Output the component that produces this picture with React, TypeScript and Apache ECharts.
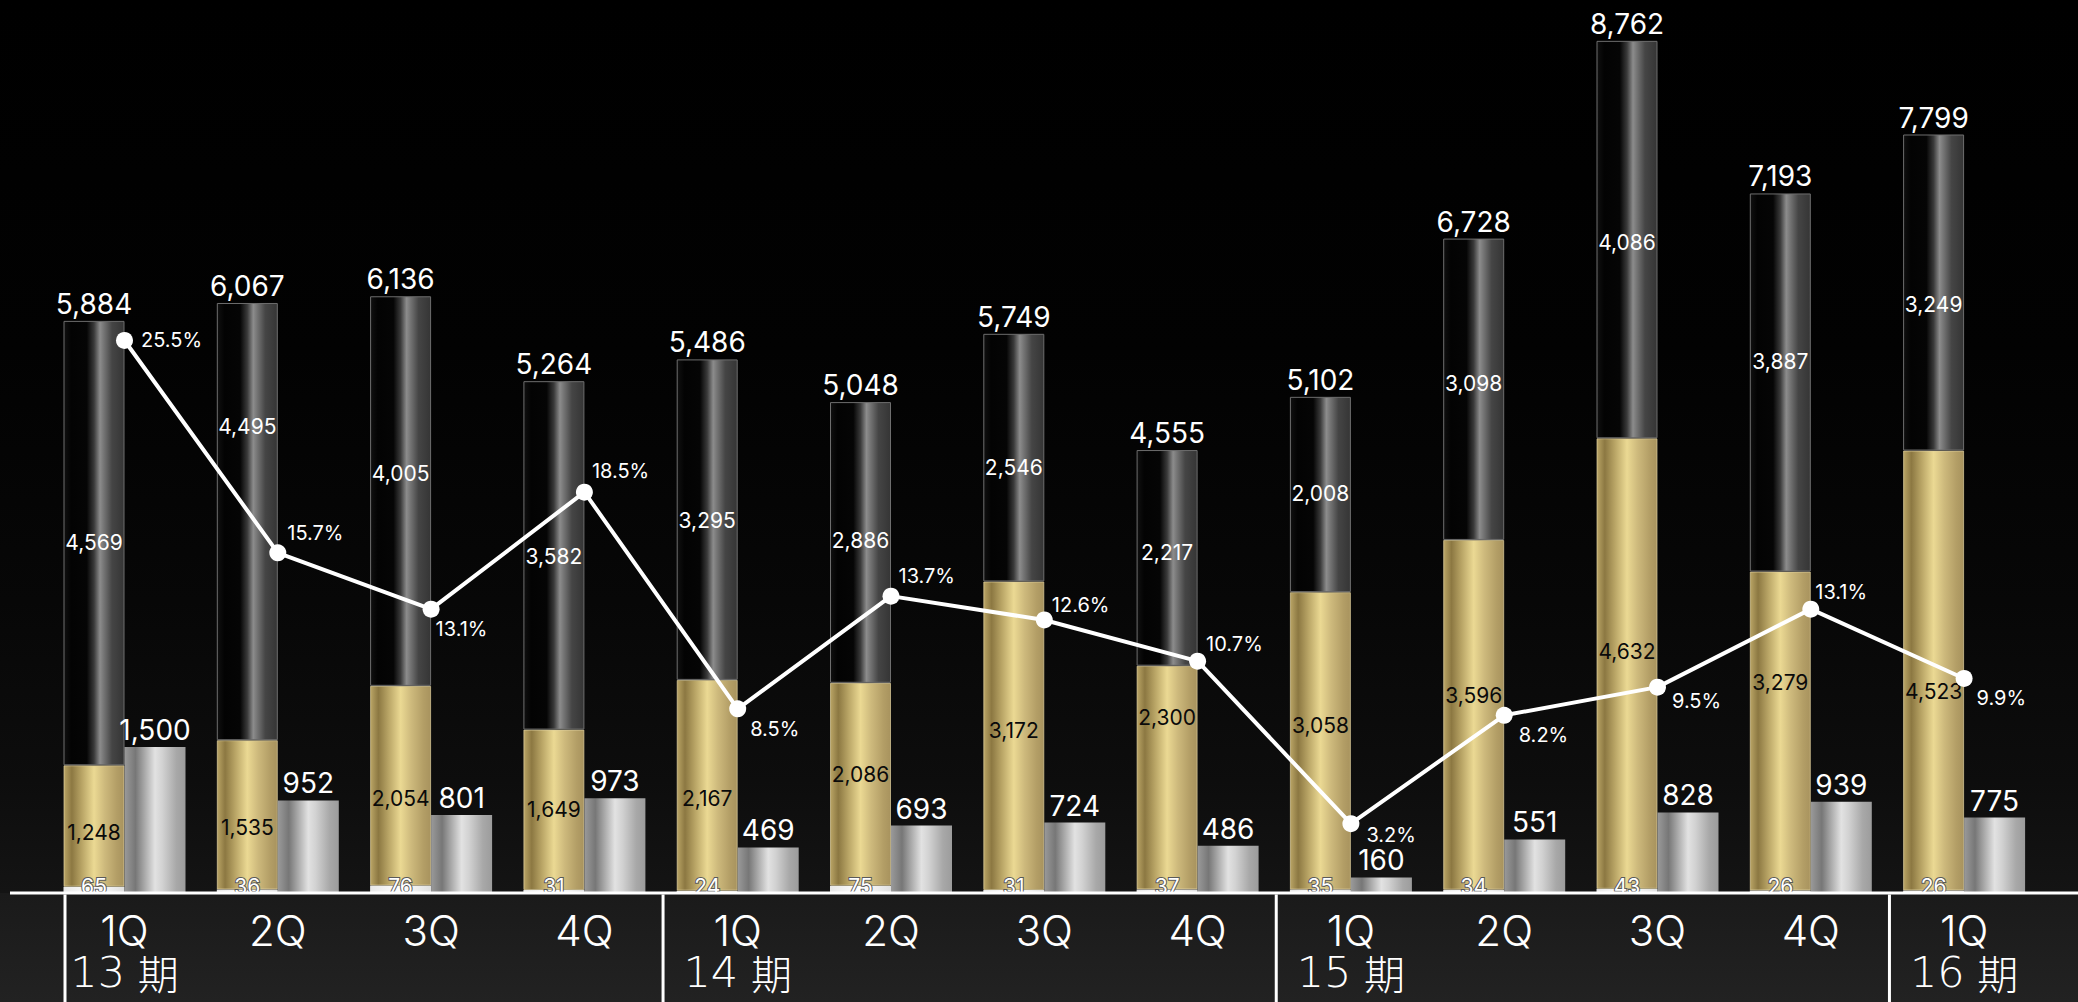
import React, { useEffect, useRef } from 'react';
import * as echarts from 'echarts';

const categories = ['1Q', '2Q', '3Q', '4Q', '1Q', '2Q', '3Q', '4Q', '1Q', '2Q', '3Q', '4Q', '1Q'];
const periods = ['13 期', '14 期', '15 期', '16 期'];
const periodFirstIndex = [0, 4, 8, 12];

const baseValues = [65, 36, 76, 31, 24, 75, 31, 37, 35, 34, 43, 26, 26];
const goldValues = [1248, 1535, 2054, 1649, 2167, 2086, 3172, 2300, 3058, 3596, 4632, 3279, 4523];
const darkValues = [4569, 4495, 4005, 3582, 3295, 2886, 2546, 2217, 2008, 3098, 4086, 3887, 3249];
const totals = [5884, 6067, 6136, 5264, 5486, 5048, 5749, 4555, 5102, 6728, 8762, 7193, 7799];
const greyValues = [1500, 952, 801, 973, 469, 693, 724, 486, 160, 551, 828, 939, 775];
const ratePct = [25.5, 15.7, 13.1, 18.5, 8.5, 13.7, 12.6, 10.7, 3.2, 8.2, 9.5, 13.1, 9.9];

// label placement styling (pixel nudges)
const rateLabelOffsets = [
  [3, 0], [-4, -20], [-9, 20], [-6, -21], [-1, 20], [-6, -20], [-6, -15],
  [-5, -17], [2, 11], [1, 20], [1, 14], [-9, -17], [-1, 20],
];
const goldLabelDy = [7, 13, 13, 0, 13, -10, -5, -60, -15, -19, -12, -49, 21];
const darkLabelDy = [-1, -95, -18, 1, 1, -2, 10, -5, -1, -6, 3, -21, 12];

const fmt = (v: number) => v.toLocaleString('en-US');
const NUM_FONT = 'Inter, "Noto Sans", sans-serif';
const BAR_W = 61;

export default function App() {
  const ref = useRef<HTMLDivElement>(null);

  useEffect(() => {
    document.body.style.margin = '0';
    const chart = echarts.init(ref.current!, null, { renderer: 'svg' });
    const LG = echarts.graphic.LinearGradient;

    const darkGrad = new LG(0, 0, 1, 0, [
      { offset: 0, color: '#101010' },
      { offset: 0.12, color: '#030303' },
      { offset: 0.38, color: '#050505' },
      { offset: 0.5, color: '#3a3a3a' },
      { offset: 0.6, color: '#8c8c8c' },
      { offset: 0.66, color: '#767676' },
      { offset: 0.8, color: '#454545' },
      { offset: 1, color: '#353535' },
    ]);
    const goldGrad = new LG(0, 0, 1, 0, [
      { offset: 0, color: '#b9a465' },
      { offset: 0.13, color: '#8c7842' },
      { offset: 0.3, color: '#b9a566' },
      { offset: 0.5, color: '#ebd993' },
      { offset: 0.68, color: '#cdb97c' },
      { offset: 0.88, color: '#b39e66' },
      { offset: 1, color: '#a8935e' },
    ]);
    const greyGrad = new LG(0, 0, 1, 0, [
      { offset: 0, color: '#9a9a9a' },
      { offset: 0.18, color: '#777777' },
      { offset: 0.5, color: '#e2e2e2' },
      { offset: 0.62, color: '#d2d2d2' },
      { offset: 0.85, color: '#a8a8a8' },
      { offset: 1, color: '#9c9c9c' },
    ]);
    const baseGrad = new LG(0, 0, 1, 0, [
      { offset: 0, color: '#e8e8e8' },
      { offset: 0.5, color: '#ffffff' },
      { offset: 1, color: '#e0e0e0' },
    ]);

    const periodAxisData = categories.map((_, i) => {
      const k = periodFirstIndex.indexOf(i);
      return k >= 0 ? periods[k] : '';
    });

    const option: any = {
      animation: false,
      backgroundColor: 'transparent',
      grid: { left: 47.85, right: 37.25, top: 17.6, bottom: 109 },
      xAxis: [
        {
          type: 'category',
          data: categories,
          z: 60,
          axisLine: { show: false },
          axisTick: { show: false },
          axisLabel: {
            interval: 0,
            color: '#ffffff',
            fontSize: 42,
            lineHeight: 40,
            fontFamily: NUM_FONT,
            fontWeight: 300,
            margin: 17,
          },
        },
        {
          type: 'category',
          data: periodAxisData,
          position: 'bottom',
          z: 60,
          axisLine: { show: false },
          axisTick: { show: false },
          axisLabel: {
            interval: 0,
            color: '#ffffff',
            margin: 59,
            formatter: (v: string) => {
              if (!v) return '';
              const m = v.match(/^(\d+)\s*(.*)$/);
              return m ? `{d|${m[1]}}{s| }{k|${m[2]}}` : v;
            },
            rich: {
              d: {
                color: '#ffffff',
                fontSize: 43,
                lineHeight: 40,
                fontFamily: '"DejaVu Sans", sans-serif',
                fontWeight: 200,
              },
              s: {
                color: '#ffffff',
                fontSize: 40,
                lineHeight: 40,
                fontFamily: '"DejaVu Sans", sans-serif',
              },
              k: {
                color: '#ffffff',
                fontSize: 41,
                lineHeight: 40,
                fontFamily: '"Noto Sans CJK JP", sans-serif',
                fontWeight: 300,
              },
            },
          },
        },
      ],
      yAxis: [
        { type: 'value', min: 0, max: 9000, show: false, splitLine: { show: false } },
        { type: 'value', min: 0, max: 40.4, show: false, splitLine: { show: false } },
      ],
      series: [
        {
          type: 'bar',
          stack: 'sales',
          barWidth: BAR_W,
          barGap: '0%',
          data: baseValues,
          itemStyle: { color: baseGrad },
          label: {
            show: true,
            position: 'insideBottom',
            offset: [0, 9],
            color: '#ffffff',
            textBorderColor: '#5a5a5a',
            textBorderWidth: 2,
            fontSize: 21,
            lineHeight: 21,
            fontFamily: NUM_FONT,
          },
        },
        {
          type: 'bar',
          stack: 'sales',
          barWidth: BAR_W,
          data: goldValues.map((v, i) => ({ value: v, label: { offset: [0, goldLabelDy[i]] } })),
          itemStyle: { color: goldGrad, borderColor: 'rgba(225,210,160,0.7)', borderWidth: 1 },
          label: {
            show: true,
            position: 'inside',
            color: '#0a0a0a',
            fontSize: 21,
            lineHeight: 21,
            fontFamily: NUM_FONT,
            formatter: (p: any) => fmt(p.value),
          },
        },
        {
          type: 'bar',
          stack: 'sales',
          barWidth: BAR_W,
          data: darkValues.map((v, i) => ({ value: v, label: { offset: [0, darkLabelDy[i]] } })),
          itemStyle: { color: darkGrad, borderColor: '#6e6e6e', borderWidth: 1 },
          label: {
            show: true,
            position: 'inside',
            color: '#ffffff',
            fontSize: 21,
            lineHeight: 21,
            fontFamily: NUM_FONT,
            formatter: (p: any) => fmt(p.value),
          },
        },
        {
          type: 'bar',
          stack: 'sales',
          barWidth: BAR_W,
          data: totals.map(() => 0),
          itemStyle: { color: 'transparent' },
          label: {
            show: true,
            position: 'top',
            distance: 3,
            color: '#ffffff',
            fontSize: 28,
            lineHeight: 28,
            fontFamily: NUM_FONT,
            formatter: (p: any) => fmt(totals[p.dataIndex]),
          },
        },
        {
          type: 'bar',
          barWidth: BAR_W,
          barGap: '0%',
          data: greyValues,
          itemStyle: { color: greyGrad },
          label: {
            show: true,
            position: 'top',
            distance: 3,
            color: '#ffffff',
            fontSize: 28,
            lineHeight: 28,
            fontFamily: NUM_FONT,
            formatter: (p: any) => fmt(p.value),
          },
        },
        {
          type: 'line',
          yAxisIndex: 1,
          z: 8,
          symbol: 'circle',
          symbolSize: 17,
          data: ratePct.map((v, i) => ({ value: v, label: { offset: rateLabelOffsets[i] } })),
          lineStyle: { color: '#ffffff', width: 4 },
          itemStyle: { color: '#ffffff' },
          label: {
            show: true,
            position: 'right',
            color: '#ffffff',
            fontSize: 20,
            lineHeight: 20,
            fontFamily: NUM_FONT,
            formatter: (p: any) => p.value.toFixed(1) + '%',
          },
        },
      ],
    };

    chart.setOption(option);

    // decorations derived from the axis scale
    const cx = (i: number) => chart.convertToPixel({ xAxisIndex: 0 }, i) as number;
    const baseY = chart.convertToPixel({ yAxisIndex: 0 }, 0) as number;
    const band = cx(1) - cx(0);
    const W = chart.getWidth();
    const H = chart.getHeight();
    const sepX = periodFirstIndex.map((idx, k) =>
      k === 0 ? cx(idx) - BAR_W + 1.5 : cx(idx) - band / 2 + 2
    );

    chart.setOption({
      graphic: [
        {
          type: 'rect',
          z: 50,
          silent: true,
          shape: { x: 0, y: baseY, width: W, height: H - baseY },
          style: {
            fill: new LG(0, 0, 0, 1, [
              { offset: 0, color: '#1a1a1a' },
              { offset: 1, color: '#222222' },
            ]),
          },
        },
        {
          type: 'line',
          z: 55,
          silent: true,
          shape: { x1: 10, y1: baseY, x2: W, y2: baseY },
          style: { stroke: '#ffffff', lineWidth: 3 },
        },
        ...sepX.map((x) => ({
          type: 'line',
          z: 55,
          silent: true,
          shape: { x1: x, y1: baseY + 1.5, x2: x, y2: H },
          style: { stroke: '#ffffff', lineWidth: 3 },
        })),
      ],
    });

    return () => chart.dispose();
  }, []);

  return (
    <div
      ref={ref}
      style={{
        width: 2078,
        height: 1002,
        background:
          'linear-gradient(to bottom, #000000 0%, #020202 35%, #070707 60%, #0d0d0d 78%, #141414 89%, #1c1c1c 100%)',
      }}
    />
  );
}
